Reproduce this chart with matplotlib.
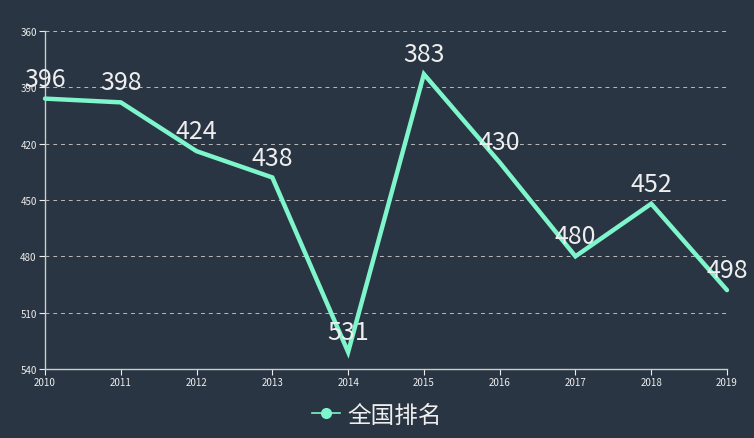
import matplotlib.pyplot as plt
from matplotlib.lines import Line2D

plt.rcParams['font.family'] = ['Noto Sans CJK SC', 'DejaVu Sans']

years = [2010, 2011, 2012, 2013, 2014, 2015, 2016, 2017, 2018, 2019]
ranks = [396, 398, 424, 438, 531, 383, 430, 480, 452, 498]
yticks = [360, 390, 420, 450, 480, 510, 540]
series_name = '全国排名'

bg = '#293542'
line_color = '#7ef5cb'
text_color = '#eeeeee'

fig = plt.figure(figsize=(7.54, 4.39), dpi=100, facecolor=bg)
ax = fig.add_axes([0.0597, 0.1572, 0.9045, 0.7699])
ax.set_facecolor(bg)

ax.plot(years, ranks, color=line_color, linewidth=3.2, solid_joinstyle='miter',
        solid_capstyle='round', clip_on=False, zorder=3)
for x, y in zip(years, ranks):
    ax.annotate(str(y), (x, y), xytext=(0, 5), textcoords='offset points',
                ha='center', va='bottom', fontsize=18, color=text_color, zorder=4)

ax.set_xlim(years[0], years[-1])
ax.set_ylim(yticks[-1], yticks[0])
ax.set_xticks(years)
ax.set_yticks(yticks)
ax.tick_params(colors=text_color, labelsize=7, length=4, width=0.8, pad=2)
ax.grid(axis='y', color='#bbbbbb', linestyle=(0, (4, 4)), linewidth=0.7)
ax.grid(axis='x', visible=False)
for side in ['top', 'right']:
    ax.spines[side].set_visible(False)
for side in ['left', 'bottom']:
    ax.spines[side].set_color('#cccccc')
    ax.spines[side].set_linewidth(1)

handle = Line2D([], [], color=line_color, linewidth=1.2, marker='o', markersize=7)
leg = fig.legend([handle], [series_name], loc='center', bbox_to_anchor=(0.5, 0.052),
                 frameon=False, fontsize=17, handlelength=1.2, handletextpad=0.3)
for t in leg.get_texts():
    t.set_color(text_color)

fig.savefig('out.png', dpi=100, facecolor=bg)
